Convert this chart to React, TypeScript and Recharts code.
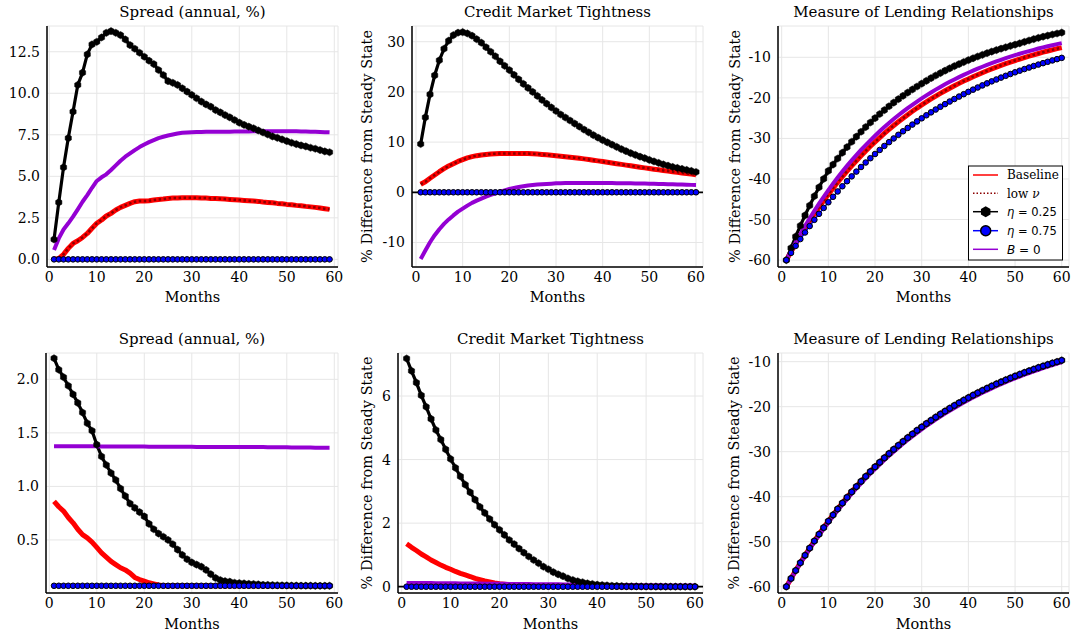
import { LineChart, Line, XAxis, YAxis, CartesianGrid, ReferenceLine } from 'recharts';

const SERIF = '"DejaVu Serif", serif';
const SANS = '"DejaVu Sans", sans-serif';
const RED = '#ff0000';
const DARKRED = '#8b0000';
const BLUE = '#0000ff';
const PURPLE = '#9400d3';
const GRID = '#e6e6e6';

// x categories (months after the shock)
const months59 = [1, 2, 3, 4, 5, 6, 7, 8, 9, 10, 11, 12, 13, 14, 15, 16, 17, 18, 19, 20, 21, 22, 23, 24, 25, 26, 27, 28, 29, 30, 31, 32, 33, 34, 35, 36, 37, 38, 39, 40, 41, 42, 43, 44, 45, 46, 47, 48, 49, 50, 51, 52, 53, 54, 55, 56, 57, 58, 59];
const months60 = [1, 2, 3, 4, 5, 6, 7, 8, 9, 10, 11, 12, 13, 14, 15, 16, 17, 18, 19, 20, 21, 22, 23, 24, 25, 26, 27, 28, 29, 30, 31, 32, 33, 34, 35, 36, 37, 38, 39, 40, 41, 42, 43, 44, 45, 46, 47, 48, 49, 50, 51, 52, 53, 54, 55, 56, 57, 58, 59, 60];
const xTicks = [0, 10, 20, 30, 40, 50, 60];

// ---- top row: spread (annual, %) ----
const spreadTopBase = [0.0, 0.05, 0.3, 0.66, 0.96, 1.12, 1.32, 1.56, 1.87, 2.17, 2.37, 2.61, 2.77, 2.97, 3.13, 3.25, 3.37, 3.47, 3.51, 3.51, 3.53, 3.57, 3.61, 3.63, 3.67, 3.69, 3.69, 3.71, 3.71, 3.71, 3.71, 3.69, 3.69, 3.67, 3.67, 3.65, 3.63, 3.61, 3.59, 3.57, 3.55, 3.53, 3.51, 3.49, 3.45, 3.43, 3.41, 3.37, 3.35, 3.31, 3.29, 3.25, 3.23, 3.19, 3.16, 3.13, 3.09, 3.05, 3.01];
const spreadTopLowNu = spreadTopBase; // sits on the baseline
const spreadTopEta25 = [1.2, 3.43, 5.54, 7.3, 8.89, 10.5, 11.24, 12.34, 12.94, 13.1, 13.36, 13.64, 13.74, 13.64, 13.5, 13.24, 12.9, 12.68, 12.44, 12.2, 11.96, 11.76, 11.4, 11.1, 10.73, 10.63, 10.5, 10.3, 10.1, 9.9, 9.7, 9.5, 9.33, 9.19, 8.99, 8.85, 8.69, 8.55, 8.39, 8.23, 8.1, 7.99, 7.89, 7.76, 7.64, 7.52, 7.4, 7.32, 7.22, 7.12, 7.02, 6.94, 6.86, 6.8, 6.72, 6.66, 6.58, 6.5, 6.45];
const spreadTopEta75 = [0, 0, 0, 0, 0, 0, 0, 0, 0, 0, 0, 0, 0, 0, 0, 0, 0, 0, 0, 0, 0, 0, 0, 0, 0, 0, 0, 0, 0, 0, 0, 0, 0, 0, 0, 0, 0, 0, 0, 0, 0, 0, 0, 0, 0, 0, 0, 0, 0, 0, 0, 0, 0, 0, 0, 0, 0, 0, 0];
const spreadTopB0 = [0.56, 1.26, 1.8, 2.17, 2.57, 3.01, 3.47, 3.87, 4.31, 4.72, 4.94, 5.12, 5.38, 5.66, 5.94, 6.18, 6.38, 6.58, 6.76, 6.92, 7.06, 7.18, 7.3, 7.38, 7.46, 7.52, 7.58, 7.62, 7.64, 7.66, 7.67, 7.67, 7.68, 7.68, 7.68, 7.69, 7.69, 7.69, 7.7, 7.7, 7.7, 7.7, 7.71, 7.71, 7.71, 7.72, 7.72, 7.72, 7.72, 7.72, 7.71, 7.71, 7.7, 7.7, 7.69, 7.68, 7.67, 7.66, 7.65];

// ---- top row: credit market tightness ----
const tightTopBase = [1.6, 2.1, 2.8, 3.45, 4.1, 4.7, 5.25, 5.7, 6.15, 6.5, 6.85, 7.1, 7.3, 7.45, 7.55, 7.65, 7.7, 7.72, 7.75, 7.75, 7.75, 7.75, 7.74, 7.72, 7.68, 7.62, 7.55, 7.47, 7.39, 7.3, 7.2, 7.1, 7.0, 6.9, 6.78, 6.66, 6.54, 6.4, 6.26, 6.12, 5.98, 5.84, 5.7, 5.56, 5.42, 5.28, 5.14, 5.0, 4.87, 4.74, 4.61, 4.48, 4.35, 4.22, 4.1, 3.98, 3.86, 3.74, 3.62, 3.5];
const tightTopLowNu = tightTopBase;
const tightTopEta25 = [9.62, 14.93, 19.5, 23.3, 26.3, 28.6, 30.2, 31.3, 31.8, 31.9, 31.65, 31.2, 30.5, 29.8, 28.9, 28.0, 27.1, 26.1, 25.2, 24.35, 23.4, 22.5, 21.6, 20.8, 20.0, 19.2, 18.4, 17.65, 16.9, 16.2, 15.5, 14.9, 14.3, 13.7, 13.1, 12.5, 11.95, 11.4, 10.9, 10.4, 9.95, 9.5, 9.05, 8.6, 8.2, 7.8, 7.45, 7.1, 6.8, 6.45, 6.15, 5.85, 5.55, 5.3, 5.05, 4.85, 4.65, 4.45, 4.25, 4.05];
const tightTopEta75 = [0, 0, 0, 0, 0, 0, 0, 0, 0, 0, 0, 0, 0, 0, 0, 0, 0, 0, 0, 0, 0, 0, 0, 0, 0, 0, 0, 0, 0, 0, 0, 0, 0, 0, 0, 0, 0, 0, 0, 0, 0, 0, 0, 0, 0, 0, 0, 0, 0, 0, 0, 0, 0, 0, 0, 0, 0, 0, 0, 0];
const tightTopB0 = [-13.3, -11.6, -9.95, -8.55, -7.35, -6.3, -5.4, -4.6, -3.85, -3.25, -2.65, -2.1, -1.65, -1.25, -0.85, -0.5, -0.2, 0.13, 0.4, 0.65, 0.85, 1.05, 1.2, 1.35, 1.45, 1.55, 1.6, 1.65, 1.72, 1.78, 1.81, 1.83, 1.85, 1.86, 1.86, 1.86, 1.86, 1.86, 1.85, 1.85, 1.84, 1.83, 1.82, 1.81, 1.8, 1.78, 1.77, 1.75, 1.73, 1.71, 1.69, 1.67, 1.64, 1.62, 1.59, 1.56, 1.54, 1.51, 1.48, 1.45];

// ---- top row: lending relationships ----
const lendTopBase = [-60, -57.94, -55.94, -54.02, -52.16, -50.37, -48.63, -46.96, -45.34, -43.78, -42.28, -40.82, -39.42, -38.06, -36.75, -35.49, -34.27, -33.09, -31.95, -30.85, -29.79, -28.77, -27.78, -26.82, -25.9, -25.01, -24.15, -23.32, -22.51, -21.74, -20.99, -20.27, -19.57, -18.9, -18.25, -17.62, -17.01, -16.43, -15.86, -15.32, -14.79, -14.28, -13.79, -13.31, -12.86, -12.41, -11.99, -11.57, -11.18, -10.79, -10.42, -10.06, -9.71, -9.38, -9.06, -8.74, -8.44, -8.15, -7.87, -7.6];
const lendTopLowNu = lendTopBase;
const lendTopEta25 = [-60, -57.03, -54.2, -51.52, -48.97, -46.54, -44.24, -42.05, -39.96, -38.0, -36.44, -34.95, -33.52, -32.14, -30.82, -29.56, -28.35, -27.19, -26.07, -25.0, -23.98, -23.01, -22.07, -21.17, -20.31, -19.49, -18.69, -17.93, -17.2, -16.5, -15.8, -15.13, -14.49, -13.88, -13.29, -12.72, -12.18, -11.67, -11.17, -10.7, -10.24, -9.8, -9.38, -8.98, -8.59, -8.22, -7.87, -7.53, -7.2, -6.88, -6.55, -6.2, -5.85, -5.52, -5.21, -4.92, -4.64, -4.38, -4.13, -3.9];
const lendTopEta75 = [-60, -58.22, -56.49, -54.81, -53.19, -51.61, -50.07, -48.59, -47.14, -45.74, -44.39, -43.07, -41.79, -40.55, -39.35, -38.18, -37.04, -35.94, -34.88, -33.84, -32.84, -31.86, -30.92, -30.0, -29.11, -28.24, -27.41, -26.59, -25.8, -25.04, -24.29, -23.57, -22.87, -22.19, -21.54, -20.9, -20.28, -19.68, -19.09, -18.52, -17.97, -17.44, -16.92, -16.42, -15.93, -15.46, -15.0, -14.56, -14.12, -13.7, -13.3, -12.9, -12.52, -12.15, -11.79, -11.44, -11.1, -10.77, -10.45, -10.14];
const lendTopB0 = [-60, -57.78, -55.64, -53.59, -51.61, -49.7, -47.86, -46.09, -44.39, -42.75, -41.17, -39.65, -38.18, -36.77, -35.41, -34.1, -32.84, -31.63, -30.46, -29.33, -28.25, -27.2, -26.2, -25.23, -24.3, -23.4, -22.53, -21.7, -20.9, -20.12, -19.38, -18.66, -17.97, -17.31, -16.67, -16.05, -15.46, -14.89, -14.34, -13.81, -13.3, -12.8, -12.33, -11.87, -11.44, -11.01, -10.61, -10.21, -9.84, -9.47, -9.12, -8.78, -8.46, -8.15, -7.84, -7.55, -7.27, -7.01, -6.75, -6.5];

// ---- bottom row: spread ----
const spreadBotBase = [0.86, 0.81, 0.77, 0.71, 0.66, 0.6, 0.55, 0.52, 0.48, 0.43, 0.38, 0.34, 0.3, 0.27, 0.24, 0.22, 0.19, 0.15, 0.13, 0.115, 0.1, 0.09, 0.08, 0.072, 0.072, 0.072, 0.072, 0.072, 0.072, 0.072, 0.072, 0.072, 0.072, 0.072, 0.072, 0.072, 0.072, 0.072, 0.072, 0.072, 0.072, 0.072, 0.072, 0.072, 0.072, 0.072, 0.072, 0.072, 0.072, 0.072, 0.072, 0.072, 0.072, 0.072, 0.072, 0.072, 0.072, 0.072, 0.072];
const spreadBotEta25 = [2.197, 2.09, 2.02, 1.94, 1.86, 1.78, 1.69, 1.59, 1.52, 1.39, 1.28, 1.2, 1.125, 1.06, 0.98, 0.91, 0.84, 0.8, 0.76, 0.72, 0.65, 0.6, 0.56, 0.53, 0.5, 0.46, 0.41, 0.36, 0.32, 0.29, 0.27, 0.25, 0.22, 0.18, 0.145, 0.125, 0.115, 0.11, 0.1, 0.097, 0.094, 0.09, 0.088, 0.085, 0.081, 0.08, 0.078, 0.077, 0.076, 0.075, 0.074, 0.074, 0.073, 0.073, 0.073, 0.072, 0.072, 0.072, 0.072];
const spreadBotEta75 = [0.072, 0.072, 0.072, 0.072, 0.072, 0.072, 0.072, 0.072, 0.072, 0.072, 0.072, 0.072, 0.072, 0.072, 0.072, 0.072, 0.072, 0.072, 0.072, 0.072, 0.072, 0.072, 0.072, 0.072, 0.072, 0.072, 0.072, 0.072, 0.072, 0.072, 0.072, 0.072, 0.072, 0.072, 0.072, 0.072, 0.072, 0.072, 0.072, 0.072, 0.072, 0.072, 0.072, 0.072, 0.072, 0.072, 0.072, 0.072, 0.072, 0.072, 0.072, 0.072, 0.072, 0.072, 0.072, 0.072, 0.072, 0.072, 0.072];
const spreadBotLowNu = spreadBotEta75; // hidden under the eta = 0.75 markers
const spreadBotB0 = [1.375, 1.375, 1.375, 1.375, 1.375, 1.374, 1.374, 1.374, 1.374, 1.374, 1.373, 1.373, 1.373, 1.373, 1.373, 1.372, 1.372, 1.372, 1.372, 1.372, 1.371, 1.371, 1.371, 1.371, 1.371, 1.37, 1.37, 1.37, 1.37, 1.37, 1.369, 1.369, 1.369, 1.369, 1.369, 1.368, 1.368, 1.368, 1.368, 1.368, 1.367, 1.367, 1.367, 1.367, 1.367, 1.366, 1.366, 1.366, 1.366, 1.366, 1.364, 1.364, 1.364, 1.364, 1.364, 1.362, 1.362, 1.362, 1.362];

// ---- bottom row: credit market tightness ----
const tightBotBase = [1.35, 1.24, 1.14, 1.03, 0.94, 0.84, 0.76, 0.68, 0.61, 0.55, 0.48, 0.42, 0.37, 0.32, 0.26, 0.22, 0.18, 0.15, 0.12, 0.095, 0.08, 0.065, 0.055, 0.045, 0.04, 0.035, 0.03, 0.026, 0.022, 0.019, 0.016, 0.014, 0.012, 0.01, 0.009, 0.008, 0.007, 0.006, 0.005, 0.004, 0.004, 0.003, 0.003, 0.002, 0.002, 0.002, 0.001, 0.001, 0.001, 0.001, 0, 0, 0, 0, 0, 0, 0, 0, 0, 0];
const tightBotEta25 = [7.18, 6.79, 6.42, 6.02, 5.66, 5.28, 4.93, 4.63, 4.32, 4.02, 3.74, 3.47, 3.21, 2.97, 2.74, 2.51, 2.32, 2.13, 1.95, 1.79, 1.63, 1.47, 1.34, 1.2, 1.07, 0.95, 0.84, 0.74, 0.63, 0.55, 0.46, 0.39, 0.33, 0.26, 0.21, 0.17, 0.14, 0.105, 0.085, 0.063, 0.05, 0.04, 0.03, 0.025, 0.02, 0.015, 0.012, 0.01, 0.008, 0.007, 0.006, 0.005, 0.004, 0.003, 0.003, 0.002, 0.002, 0.001, 0.001, 0.0];
const tightBotEta75 = [0, 0, 0, 0, 0, 0, 0, 0, 0, 0, 0, 0, 0, 0, 0, 0, 0, 0, 0, 0, 0, 0, 0, 0, 0, 0, 0, 0, 0, 0, 0, 0, 0, 0, 0, 0, 0, 0, 0, 0, 0, 0, 0, 0, 0, 0, 0, 0, 0, 0, 0, 0, 0, 0, 0, 0, 0, 0, 0, 0];
const tightBotLowNu = tightBotEta75;
const tightBotB0 = [0.12, 0.119, 0.117, 0.116, 0.114, 0.113, 0.111, 0.11, 0.108, 0.107, 0.105, 0.104, 0.102, 0.101, 0.099, 0.098, 0.096, 0.095, 0.093, 0.092, 0.09, 0.089, 0.087, 0.086, 0.084, 0.083, 0.081, 0.08, 0.078, 0.077, 0.075, 0.074, 0.072, 0.071, 0.069, 0.068, 0.066, 0.065, 0.063, 0.062, 0.06, 0.059, 0.057, 0.056, 0.054, 0.053, 0.051, 0.05, 0.048, 0.047, 0.045, 0.044, 0.042, 0.041, 0.04, 0.039, 0.038, 0.037, 0.036, 0.035];

// ---- bottom row: lending relationships (all but B = 0 overlap) ----
const lendBotCommon = [-60, -58.18, -56.41, -54.69, -53.03, -51.42, -49.85, -48.34, -46.87, -45.44, -44.06, -42.72, -41.42, -40.16, -38.94, -37.76, -36.61, -35.5, -34.42, -33.37, -32.36, -31.37, -30.42, -29.49, -28.6, -27.73, -26.89, -26.07, -25.27, -24.51, -23.76, -23.04, -22.34, -21.66, -21.0, -20.36, -19.74, -19.14, -18.56, -18.0, -17.45, -16.92, -16.4, -15.9, -15.42, -14.95, -14.5, -14.06, -13.63, -13.21, -12.81, -12.42, -12.05, -11.68, -11.32, -10.98, -10.65, -10.32, -10.01, -9.7];
const lendBotB0 = [-60, -58.22, -56.49, -54.81, -53.19, -51.61, -50.07, -48.59, -47.14, -45.74, -44.39, -43.07, -41.79, -40.55, -39.35, -38.18, -37.04, -35.94, -34.88, -33.84, -32.84, -31.86, -30.92, -30.0, -29.11, -28.24, -27.41, -26.59, -25.8, -25.04, -24.29, -23.57, -22.87, -22.19, -21.54, -20.9, -20.28, -19.68, -19.09, -18.52, -17.97, -17.44, -16.92, -16.42, -15.93, -15.46, -15.0, -14.56, -14.12, -13.7, -13.3, -12.9, -12.52, -12.15, -11.79, -11.44, -11.1, -10.77, -10.45, -10.14];

type Series = { base: number[]; lowNu: number[]; eta25: number[]; eta75: number[]; b0: number[] };

const toRows = (months: number[], s: Series) =>
  months.map((m, i) => ({ m, base: s.base[i], lowNu: s.lowNu[i], eta25: s.eta25[i], eta75: s.eta75[i], b0: s.b0[i] }));

function hexPoints(cx: number, cy: number, r: number) {
  const pts: string[] = [];
  for (let k = 0; k < 6; k++) {
    const a = Math.PI / 6 + (k * Math.PI) / 3;
    pts.push(`${(cx + r * Math.cos(a)).toFixed(2)},${(cy + r * Math.sin(a)).toFixed(2)}`);
  }
  return pts.join(' ');
}

const hexDot = (p: any) => {
  if (p.cx == null || p.cy == null) return <g key={`h${p.index}`} />;
  return <polygon key={`h${p.index}`} points={hexPoints(p.cx, p.cy, 3.6)} fill="#000" stroke="#000" strokeWidth={0.5} />;
};

type PanelProps = {
  left: number; top: number; width: number; height: number;
  plotTop: number; plotRight: number; yAxisWidth: number; xAxisHeight: number;
  xDomain: [number, number]; yDomain: [number, number]; yTicks: number[];
  yFmt?: (v: number) => string;
  months: number[]; s: Series; zeroLine?: boolean;
};

const Panel = (p: PanelProps) => {
  const data = toRows(p.months, p.s);
  const tickStyle = { fill: '#000', fontSize: 14, fontFamily: SERIF };
  return (
    <div style={{ position: 'absolute', left: p.left, top: p.top }}>
      <LineChart
        width={p.width}
        height={p.height}
        data={data}
        margin={{ top: p.plotTop - p.top, right: p.left + p.width - p.plotRight, bottom: 0, left: 0 }}
      >
        <CartesianGrid stroke={GRID} strokeWidth={1} />
        <XAxis
          type="number" dataKey="m" domain={p.xDomain} ticks={xTicks} allowDataOverflow interval={0}
          height={p.xAxisHeight} tickLine={false} tickSize={0} tickMargin={5}
          axisLine={{ stroke: '#000', strokeWidth: 1.5 }} tick={tickStyle}
        />
        <YAxis
          type="number" domain={p.yDomain} ticks={p.yTicks} allowDataOverflow interval={0}
          width={p.yAxisWidth} tickLine={false} tickSize={0} tickMargin={7}
          axisLine={{ stroke: '#000', strokeWidth: 1.5 }} tick={tickStyle}
          tickFormatter={p.yFmt}
        />
        {p.zeroLine && <ReferenceLine y={0} stroke="#000" strokeWidth={1.8} />}
        <Line dataKey="base" stroke={RED} strokeWidth={5} dot={false} activeDot={false} isAnimationActive={false} strokeLinejoin="round" />
        <Line dataKey="lowNu" stroke={DARKRED} strokeWidth={2.5} strokeDasharray="2.5 2.5" dot={false} activeDot={false} isAnimationActive={false} />
        <Line dataKey="eta25" stroke="#000" strokeWidth={3.2} dot={hexDot} activeDot={false} isAnimationActive={false} strokeLinejoin="round" />
        <Line dataKey="eta75" stroke={BLUE} strokeWidth={1.5} dot={{ r: 2.8, fill: BLUE, stroke: '#000', strokeWidth: 1 }} activeDot={false} isAnimationActive={false} />
        <Line dataKey="b0" stroke={PURPLE} strokeWidth={4} dot={false} activeDot={false} isAnimationActive={false} strokeLinejoin="round" />
      </LineChart>
    </div>
  );
};

const fmt1 = (v: number) => v.toFixed(1);

const legendRows = [
  { label: 'Baseline', kind: 'base' },
  { label: 'low ν', kind: 'lowNu' },
  { label: 'η = 0.25', kind: 'eta25' },
  { label: 'η = 0.75', kind: 'eta75' },
  { label: 'B = 0', kind: 'b0' },
];

const LegendBox = () => {
  const x0 = 968.5, y0 = 166, rowY = [175, 193.3, 211.7, 230.7, 249.3];
  return (
    <g>
      <rect x={x0} y={y0} width={94} height={94} fill="#fff" stroke="#000" strokeWidth={1} />
      {legendRows.map((r, i) => {
        const y = rowY[i];
        const line =
          r.kind === 'base' ? <line x1={973} x2={998} y1={y} y2={y} stroke={RED} strokeWidth={1.5} /> :
          r.kind === 'lowNu' ? <line x1={973} x2={998} y1={y} y2={y} stroke={DARKRED} strokeWidth={1.5} strokeDasharray="1.5 2" /> :
          r.kind === 'eta25' ? <g><line x1={973} x2={998} y1={y} y2={y} stroke="#000" strokeWidth={1.5} /><polygon points={hexPoints(985.7, y, 5.5)} fill="#000" /></g> :
          r.kind === 'eta75' ? <g><line x1={973} x2={998} y1={y} y2={y} stroke={BLUE} strokeWidth={1.5} /><circle cx={985.7} cy={y} r={5} fill={BLUE} stroke="#000" strokeWidth={1.5} /></g> :
          <line x1={973} x2={998} y1={y} y2={y} stroke={PURPLE} strokeWidth={1.5} />;
        let text;
        if (r.kind === 'base') text = <text x={1007} y={y + 4.3} fontFamily={SERIF} fontSize={12}>Baseline</text>;
        else if (r.kind === 'lowNu') text = <text x={1007} y={y + 4.3} fontFamily={SERIF} fontSize={12}>low <tspan fontStyle="italic">ν</tspan></text>;
        else if (r.kind === 'b0') text = <text x={1007} y={y + 4.3} fontFamily={SANS} fontSize={12}><tspan fontStyle="italic">B</tspan> = 0</text>;
        else text = <text x={1007} y={y + 4.3} fontFamily={SANS} fontSize={11.5}><tspan fontStyle="italic">η</tspan>{r.label.slice(1)}</text>;
        return <g key={r.kind}>{line}{text}</g>;
      })}
    </g>
  );
};

const titles = [
  { t: 'Spread (annual, %)', x: 192.5, y: 17.3 },
  { t: 'Credit Market Tightness', x: 557.5, y: 17.3 },
  { t: 'Measure of Lending Relationships', x: 923.5, y: 17.3 },
  { t: 'Spread (annual, %)', x: 192, y: 344 },
  { t: 'Credit Market Tightness', x: 550.5, y: 344 },
  { t: 'Measure of Lending Relationships', x: 923.5, y: 344 },
];
const monthLabels = [
  { x: 192.5, y: 301.7 }, { x: 557.5, y: 301.7 }, { x: 923.5, y: 301.7 },
  { x: 192, y: 629 }, { x: 550.5, y: 629 }, { x: 923.5, y: 629 },
];
const yLabels = [
  { x: 372, y: 146.5 }, { x: 739.5, y: 146.5 }, { x: 372, y: 473 }, { x: 739, y: 473 },
];

export default function App() {
  return (
    <div style={{ position: 'absolute', left: 0, top: 0, width: 1073, height: 636, background: '#fff', overflow: 'hidden' }}>
      <Panel left={0} top={0} width={345} height={318} plotTop={26} plotRight={338} yAxisWidth={47} xAxisHeight={51}
        xDomain={[-0.48, 60.78]} yDomain={[-0.46, 14.05]} yTicks={[0, 2.5, 5, 7.5, 10, 12.5]} yFmt={fmt1}
        months={months59} s={{ base: spreadTopBase, lowNu: spreadTopLowNu, eta25: spreadTopEta25, eta75: spreadTopEta75, b0: spreadTopB0 }} />
      <Panel left={360} top={0} width={348} height={318} plotTop={26} plotRight={703} yAxisWidth={52} xAxisHeight={51}
        xDomain={[-0.86, 61.5]} yDomain={[-14.88, 33.13]} yTicks={[-10, 0, 10, 20, 30]} zeroLine
        months={months60} s={{ base: tightTopBase, lowNu: tightTopLowNu, eta25: tightTopEta25, eta75: tightTopEta75, b0: tightTopB0 }} />
      <Panel left={725} top={0} width={347} height={318} plotTop={26} plotRight={1069} yAxisWidth={53} xAxisHeight={51}
        xDomain={[-0.79, 61.56]} yDomain={[-61.7, -2.28]} yTicks={[-60, -50, -40, -30, -20, -10]}
        months={months60} s={{ base: lendTopBase, lowNu: lendTopLowNu, eta25: lendTopEta25, eta75: lendTopEta75, b0: lendTopB0 }} />
      <Panel left={0} top={320} width={345} height={316} plotTop={353} plotRight={338} yAxisWidth={46} xAxisHeight={43}
        xDomain={[-0.69, 60.78]} yDomain={[0.0046, 2.246]} yTicks={[0.5, 1, 1.5, 2]} yFmt={fmt1}
        months={months59} s={{ base: spreadBotBase, lowNu: spreadBotLowNu, eta25: spreadBotEta25, eta75: spreadBotEta75, b0: spreadBotB0 }} />
      <Panel left={360} top={320} width={348} height={316} plotTop={353} plotRight={703} yAxisWidth={38} xAxisHeight={43}
        xDomain={[-0.76, 61.64]} yDomain={[-0.198, 7.353]} yTicks={[0, 2, 4, 6]} zeroLine
        months={months60} s={{ base: tightBotBase, lowNu: tightBotLowNu, eta25: tightBotEta25, eta75: tightBotEta75, b0: tightBotB0 }} />
      <Panel left={725} top={320} width={347} height={316} plotTop={353} plotRight={1069} yAxisWidth={53} xAxisHeight={43}
        xDomain={[-0.79, 61.56]} yDomain={[-61.4, -8.07]} yTicks={[-60, -50, -40, -30, -20, -10]}
        months={months60} s={{ base: lendBotCommon, lowNu: lendBotCommon, eta25: lendBotCommon, eta75: lendBotCommon, b0: lendBotB0 }} />

      <svg width={1073} height={636} style={{ position: 'absolute', left: 0, top: 0, pointerEvents: 'none' }}>
        {titles.map((d, i) => (
          <text key={`t${i}`} x={d.x} y={d.y} textAnchor="middle" fontFamily={SERIF} fontSize={15} fill="#000">{d.t}</text>
        ))}
        {monthLabels.map((d, i) => (
          <text key={`m${i}`} x={d.x} y={d.y} textAnchor="middle" fontFamily={SERIF} fontSize={14.5} fill="#000">Months</text>
        ))}
        {yLabels.map((d, i) => (
          <text key={`y${i}`} transform={`translate(${d.x},${d.y}) rotate(-90)`} textAnchor="middle" fontFamily={SERIF} fontSize={14.5} fill="#000">% Difference from Steady State</text>
        ))}
        <LegendBox />
      </svg>
    </div>
  );
}
